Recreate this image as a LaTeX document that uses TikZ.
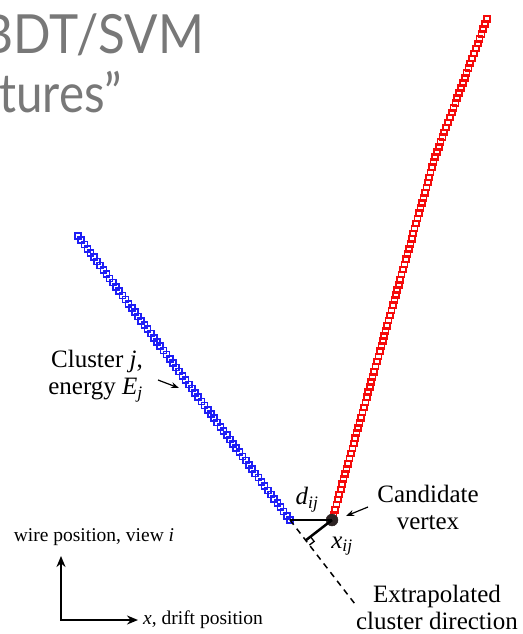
\documentclass[tikz,border=0pt]{standalone}
\usepackage{fontspec}
\setmainfont{Liberation Serif}
\newfontfamily\titlefonta[FakeStretch=0.915]{Lato}
\newfontfamily\titlefontb[FakeStretch=0.88]{Lato}
\usetikzlibrary{calc,arrows.meta}
\definecolor{trackblue}{RGB}{30,30,245}
\definecolor{trackred}{RGB}{245,10,10}
\definecolor{titlegray}{RGB}{120,120,120}
\definecolor{vtxfill}{RGB}{45,35,35}
\begin{document}
\begin{tikzpicture}[x=1pt,y=-1pt,
  bluesq/.style={draw=trackblue, line width=1.6pt},
  redsq/.style={draw=trackred, line width=1.6pt},
  lbl/.style={font=\fontsize{25}{27}\selectfont, align=center, inner sep=0pt},
  axlbl/.style={font=\fontsize{19.5}{22}\selectfont, inner sep=0pt},
  ttla/.style={font=\titlefonta\fontsize{54}{60}\selectfont, text=titlegray, inner sep=0pt},
  ttlb/.style={font=\titlefontb\fontsize{54}{60}\selectfont, text=titlegray, inner sep=0pt},
  ptr/.style={-{Stealth[length=8pt,width=6pt]}, line width=1.2pt},
  axboth/.style={{Stealth[length=11pt,width=9pt]}-{Stealth[length=11pt,width=9pt]}, line width=2pt},
  measure/.style={line width=2.5pt},
  extrap/.style={dashed, dash pattern=on 6pt off 5pt, line width=1.5pt},
]
\useasboundingbox (0,0) rectangle (522,634);

% title fragments
\node[ttla, anchor=base east] (title1) at (204,53) {BDT/SVM};
\node[ttlb, anchor=base west] (title2) at (-1,112) {tures”};

% key points
\coordinate (bluetop) at (78,236);
\coordinate (blueend) at (290,520);
\coordinate (redtop) at (487,19);
\coordinate (redmid) at (435,157);
\coordinate (vtx) at (332,520);
\coordinate (dashend) at (355,604);

% blue cluster hits
\foreach \i in {0,...,67}
  \draw[bluesq] ($(bluetop)!\i/67!(blueend)$) ++(-3,-3) rectangle ++(6,6);

% red cluster hits
\foreach \i in {0,...,27}
  \draw[redsq] ($(redtop)!\i/28!(redmid)$) ++(-3,-3) rectangle ++(6,6);
\foreach \i in {0,...,71}
  \draw[redsq] ($(redmid)!\i/71!(vtx)$) ++(-3,-3) rectangle ++(6,6);

% candidate vertex
\node[circle, fill=vtxfill, draw=vtxfill, minimum size=12pt, inner sep=0pt] (vertex) at (vtx) {};

% extrapolation and distances
\draw[extrap] (blueend) -- (dashend);
\coordinate (foot) at ($(blueend)!(vtx)!(dashend)$);
\coordinate (ra1) at ($(foot)!6pt!(dashend)$);
\coordinate (ra2) at ($(foot)!6pt!(vtx)$);
\coordinate (ra3) at ($(ra1)+(ra2)-(foot)$);
\draw[line width=1.3pt] (ra1) -- (ra3) -- (ra2);
\draw[measure] (blueend) -- (vertex.center);
\draw[measure] (foot) -- (vertex.center);

% labels
\node[lbl] (dlbl) at (307,500) {\textit{d}\textsubscript{\textit{ij}}};
\node[lbl] (xlbl) at (342,546) {\textit{x}\textsubscript{\textit{ij}}};
\node[lbl] (cand) at (428,507) {Candidate\\vertex};
\node[lbl] (extraplbl) at (437,607) {Extrapolated\\cluster direction};
\node[lbl, align=right, anchor=east] (clusterlbl) at (143,376) {Cluster \textit{j},\\energy \textit{E}\textsubscript{\textit{j}}};

% pointers
\coordinate (candtail) at (368,507);
\coordinate (candhead) at (346,516);
\draw[ptr] (candtail) -- (candhead);
\coordinate (clustail) at (158,380);
\coordinate (cluhead) at (179,388);
\draw[ptr] (clustail) -- (cluhead);

% axes
\coordinate (axtop) at (61,556);
\coordinate (axright) at (138,620);
\draw[axboth] (axtop) |- (axright);
\node[axlbl] (wirelbl) at (94,537) {wire position, view \textit{i}};
\node[axlbl, anchor=west] (driftlbl) at (143,620) {\textit{x}, drift position};
\end{tikzpicture}
\end{document}
